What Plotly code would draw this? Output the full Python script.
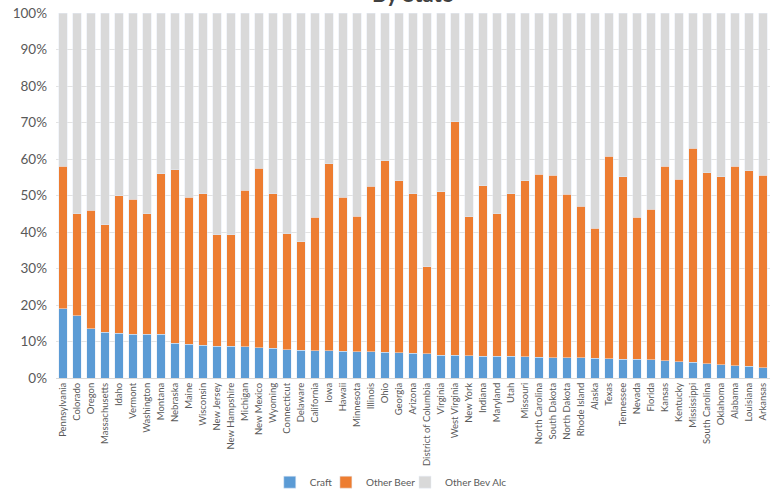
import plotly.graph_objects as go

# Share of alcohol volume by state (percent)
states = [
    "Pennsylvania", "Colorado", "Oregon", "Massachusetts", "Idaho", "Vermont",
    "Washington", "Montana", "Nebraska", "Maine", "Wisconsin", "New Jersey",
    "New Hampshire", "Michigan", "New Mexico", "Wyoming", "Connecticut",
    "Delaware", "California", "Iowa", "Hawaii", "Minnesota", "Illinois", "Ohio",
    "Georgia", "Arizona", "District of Columbia", "Virginia", "West Virginia",
    "New York", "Indiana", "Maryland", "Utah", "Missouri", "North Carolina",
    "South Dakota", "North Dakota", "Rhode Island", "Alaska", "Texas",
    "Tennessee", "Nevada", "Florida", "Kansas", "Kentucky", "Mississippi",
    "South Carolina", "Oklahoma", "Alabama", "Louisiana", "Arkansas",
]

craft = [
    19.0, 17.0, 13.5, 12.5, 12.3, 12.0, 12.0, 12.0, 9.5, 9.3, 9.0, 8.7,
    8.7, 8.6, 8.3, 8.2, 7.8, 7.6, 7.5, 7.4, 7.3, 7.2, 7.2, 7.0,
    6.9, 6.8, 6.6, 6.3, 6.2, 6.1, 6.0, 6.0, 5.9, 5.8, 5.7,
    5.6, 5.6, 5.5, 5.4, 5.3, 5.2, 5.1, 5.0, 4.7, 4.5, 4.3,
    3.9, 3.6, 3.4, 3.2, 2.8,
]

other_beer = [
    39.0, 28.0, 32.5, 29.5, 37.7, 37.0, 33.0, 44.0, 47.5, 40.2, 41.5, 30.6,
    30.5, 42.9, 49.2, 42.3, 31.7, 29.7, 36.5, 51.3, 42.2, 37.1, 45.3, 52.5,
    47.1, 43.7, 23.9, 44.7, 64.0, 38.1, 46.7, 39.0, 44.6, 48.2, 50.1,
    49.9, 44.7, 41.5, 35.6, 55.5, 50.0, 38.9, 41.3, 53.3, 50.0, 58.7,
    52.4, 51.6, 54.6, 53.6, 52.7,
]

other_bev_alc = [
    42.0, 55.0, 54.0, 58.0, 50.0, 51.0, 55.0, 44.0, 43.0, 50.5, 49.5, 60.7,
    60.8, 48.5, 42.5, 49.5, 60.5, 62.7, 56.0, 41.3, 50.5, 55.7, 47.5, 40.5,
    46.0, 49.5, 69.5, 49.0, 29.8, 55.8, 47.3, 55.0, 49.5, 46.0, 44.2,
    44.5, 49.7, 53.0, 59.0, 39.2, 44.8, 56.0, 53.7, 42.0, 45.5, 37.0,
    43.7, 44.8, 42.0, 43.2, 44.5,
]

y_ticks = [0, 10, 20, 30, 40, 50, 60, 70, 80, 90, 100]

text_grey = "#595959"
font_family = "Lato, 'Open Sans', sans-serif"

fig = go.Figure()
fig.add_trace(go.Bar(x=states, y=craft, name="Craft",
                     marker_color="#5B9BD5", legend="legend"))
fig.add_trace(go.Bar(x=states, y=other_beer, name="Other Beer",
                     marker_color="#ED7D31", legend="legend2"))
fig.add_trace(go.Bar(x=states, y=other_bev_alc, name="Other Bev Alc",
                     marker_color="#D9D9D9", legend="legend3"))

# one small legend per series so the entries sit close together
legend_style = dict(
    orientation="h",
    xanchor="left",
    yref="container",
    y=0.02,
    yanchor="middle",
    font=dict(size=10, color=text_grey),
    itemwidth=30,
    bgcolor="rgba(0,0,0,0)",
)

fig.update_layout(
    barmode="stack",
    bargap=0.42,
    width=775,
    height=492,
    margin=dict(l=56, r=5, t=13, b=114, autoexpand=False),
    paper_bgcolor="white",
    plot_bgcolor="white",
    font=dict(family=font_family, color=text_grey),
    showlegend=True,
    legend=dict(x=0.2994, **legend_style),
    legend2=dict(x=0.378, **legend_style),
    legend3=dict(x=0.4888, **legend_style),
    annotations=[
        dict(
            text="<b>By State</b>",
            xref="paper",
            yref="paper",
            x=0.5,
            y=1.011,
            xanchor="center",
            yanchor="bottom",
            showarrow=False,
            font=dict(size=22, color="#404040", family=font_family),
        )
    ],
)

fig.update_xaxes(
    tickangle=-90,
    tickfont=dict(size=9.5, color=text_grey),
    showgrid=False,
    showline=True,
    linecolor="#D9D9D9",
    ticks="",
    automargin=False,
    range=[-0.5, len(states) - 0.5],
)

fig.update_yaxes(
    range=[0, 100],
    tickvals=y_ticks,
    ticktext=[f"{v}%" for v in y_ticks],
    tickfont=dict(size=13.5, color=text_grey),
    ticklabelstandoff=8,
    automargin=False,
    showgrid=True,
    gridcolor="#E3E3E3",
    gridwidth=1,
    zeroline=False,
    ticks="",
)

fig.write_html("out.html")
